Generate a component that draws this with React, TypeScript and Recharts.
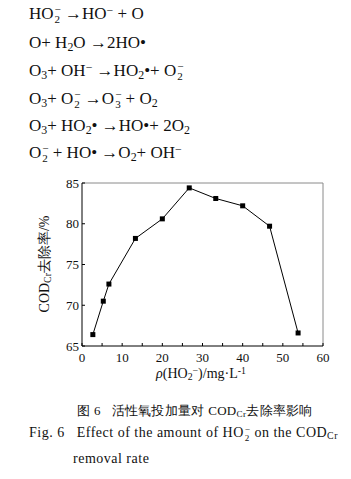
import { Line, LineChart, ReferenceLine, XAxis, YAxis } from 'recharts';

// HO2- dose (mg/L) and COD_Cr removal (%)
const doses = [2.7, 5.3, 6.7, 13.3, 20, 26.7, 33.3, 40, 46.7, 53.8];
const removal = [66.4, 70.5, 72.6, 78.2, 80.6, 84.4, 83.1, 82.2, 79.7, 66.6];
const xTicks = [0, 5, 10, 15, 20, 25, 30, 35, 40, 45, 50, 55, 60];
const yTicks = [65, 70, 75, 80, 85];

const data = doses.map((d, i) => ({ dose: d, removal: removal[i] }));

const serif = '"Liberation Serif", "Times New Roman", serif';

function SquareDot(props: any) {
  const { cx, cy } = props;
  if (cx == null || cy == null) return null;
  return (
    <rect
      x={cx - 2.5}
      y={cy - 2.5}
      width={5}
      height={5}
      fill='#000'
    />
  );
}

const eqStyle: React.CSSProperties = {
  position: 'absolute',
  left: 29,
  fontFamily: serif,
  fontSize: 17,
  color: '#111',
  whiteSpace: 'nowrap',
  lineHeight: '17px',
};

const sub: React.CSSProperties = { fontSize: '0.7em', verticalAlign: '-0.25em', lineHeight: 0 };
const sup: React.CSSProperties = { fontSize: '0.7em', verticalAlign: '0.45em', lineHeight: 0 };

function Ion({ base, s, p }: { base: string; s?: string; p?: string }) {
  return (
    <span>
      {base}
      <span style={{ display: 'inline-flex', flexDirection: 'column', verticalAlign: 'middle', fontSize: '0.65em', lineHeight: '0.9em', marginLeft: 1 }}>
        <span>{p ?? '\u00a0'}</span>
        <span>{s ?? '\u00a0'}</span>
      </span>
    </span>
  );
}

export default function App() {
  return (
    <div
      style={{
        position: 'absolute',
        left: 0,
        top: 0,
        width: 351,
        height: 479,
        background: '#fff',
        overflow: 'hidden',
      }}
    >
      <div style={{ position: 'absolute', left: 0, top: 0 }}>
        <LineChart
          width={351}
          height={479}
          data={data}
          margin={{ top: 183, right: 28, bottom: 103, left: 0 }}
        >
          <XAxis
            dataKey='dose'
            type='number'
            domain={[0, 60]}
            ticks={xTicks}
            interval={0}
            stroke='#000'
            tickSize={-3}
            tickMargin={10}
            height={30}
            tickFormatter={(v: number) => (v % 10 === 0 ? String(v) : '')}
            tick={{ fill: '#111', fontSize: 13, fontFamily: serif }}
          />
          <YAxis
            type='number'
            domain={[65, 85]}
            ticks={yTicks}
            interval={0}
            stroke='#000'
            tickSize={-3}
            tickMargin={6}
            width={82}
            tick={{ fill: '#111', fontSize: 13, fontFamily: serif }}
          />
          {/* frame: top and right edges */}
          <ReferenceLine
            y={85}
            stroke='#8a8a8a'
          />
          <ReferenceLine
            x={60}
            stroke='#8a8a8a'
          />
          <Line
            dataKey='removal'
            stroke='#000'
            strokeWidth={1}
            dot={<SquareDot />}
            isAnimationActive={false}
          />
        </LineChart>
      </div>

      <div style={{ ...eqStyle, top: 5 }}>
        <Ion base='HO' s='2' p='−' />{'\u00a0'}→HO<span style={sup}>−</span> + O
      </div>
      <div style={{ ...eqStyle, top: 34 }}>
        O+ H<span style={sub}>2</span>O →2HO•
      </div>
      <div style={{ ...eqStyle, top: 62 }}>
        O<span style={sub}>3</span>+ OH<span style={sup}>−</span>{'\u00a0'}→HO<span style={sub}>2</span>•+ <Ion base='O' s='2' p='−' />
      </div>
      <div style={{ ...eqStyle, top: 90 }}>
        O<span style={sub}>3</span>+ <Ion base='O' s='2' p='−' />{'\u00a0'}→<Ion base='O' s='3' p='−' /> + O<span style={sub}>2</span>
      </div>
      <div style={{ ...eqStyle, top: 117 }}>
        O<span style={sub}>3</span>+ HO<span style={sub}>2</span>•{'\u00a0'}→HO•+ 2O<span style={sub}>2</span>
      </div>
      <div style={{ ...eqStyle, top: 144 }}>
        <Ion base='O' s='2' p='−' /> + HO• →O<span style={sub}>2</span>+ OH<span style={sup}>−</span>
      </div>

      <div
        style={{
          position: 'absolute',
          left: 45,
          top: 264,
          transform: 'translate(-50%, -50%) rotate(-90deg)',
          fontFamily: serif,
          fontSize: 14,
          color: '#111',
          whiteSpace: 'nowrap',
        }}
      >
        COD<span style={sub}>Cr</span>去除率/%
      </div>

      <div
        style={{
          position: 'absolute',
          left: 201,
          top: 374,
          transform: 'translate(-50%, -50%)',
          fontFamily: serif,
          fontSize: 14,
          color: '#111',
          whiteSpace: 'nowrap',
        }}
      >
        <i>ρ</i>(HO<span style={sub}>2</span><span style={sup}>−</span>)/mg·L<span style={sup}>-1</span>
      </div>

      <div
        style={{
          position: 'absolute',
          left: 195,
          top: 411,
          transform: 'translate(-50%, -50%)',
          fontFamily: serif,
          fontSize: 13,
          color: '#111',
          whiteSpace: 'nowrap',
          letterSpacing: 0.3,
        }}
      >
        图 6{'\u00a0\u00a0\u00a0'}活性氧投加量对 COD<span style={sub}>Cr</span>去除率影响
      </div>
      <div
        style={{
          position: 'absolute',
          left: 29,
          top: 425,
          fontFamily: serif,
          fontSize: 14,
          color: '#111',
          whiteSpace: 'nowrap',
          letterSpacing: 0.5,
        }}
      >
        Fig. 6{'\u00a0\u00a0\u00a0'}Effect of the amount of <Ion base='HO' s='2' p='−' /> on the COD<span style={sub}>Cr</span>
      </div>
      <div
        style={{
          position: 'absolute',
          left: 73,
          top: 451,
          fontFamily: serif,
          fontSize: 14,
          color: '#111',
          whiteSpace: 'nowrap',
          letterSpacing: 0.5,
        }}
      >
        removal rate
      </div>
    </div>
  );
}
